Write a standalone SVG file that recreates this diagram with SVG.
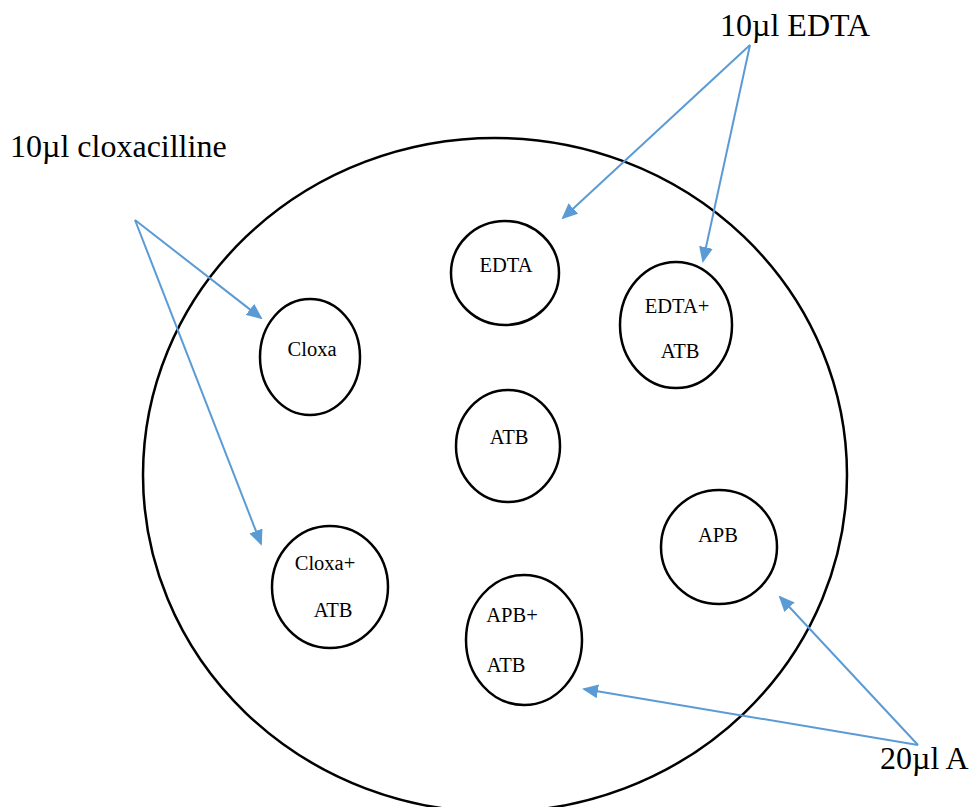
<svg xmlns="http://www.w3.org/2000/svg" width="979" height="807" viewBox="0 0 979 807">
<style>
.e{fill:none;stroke:#000;stroke-width:2.5}
.t{font-family:"Liberation Serif",serif;font-size:20.5px;fill:#000;text-anchor:middle}
.l{font-family:"Liberation Serif",serif;font-size:32px;fill:#000}
.c{stroke:#5B9BD5;stroke-width:2;fill:none;marker-end:url(#a)}
</style>
<defs>
<marker id="a" markerWidth="8" markerHeight="7" refX="7" refY="3.5" orient="auto" markerUnits="strokeWidth">
<path d="M0,0 L8,3.5 L0,7 Z" fill="#5B9BD5"/>
</marker>
</defs>
<rect width="979" height="807" fill="#fff"/>
<g id="plate"><ellipse class="e" cx="495" cy="475" rx="352" ry="337"/></g>
<g id="edta"><ellipse class="e" cx="505" cy="273" rx="54" ry="52"/><text class="t" x="506" y="272">EDTA</text></g>
<g id="edta-atb"><ellipse class="e" cx="676" cy="325" rx="56" ry="63"/><text class="t" x="677" y="313">EDTA+</text><text class="t" x="680" y="358">ATB</text></g>
<g id="cloxa"><ellipse class="e" cx="310" cy="357" rx="50" ry="58"/><text class="t" x="312" y="356">Cloxa</text></g>
<g id="atb"><ellipse class="e" cx="508" cy="446" rx="52" ry="56"/><text class="t" x="509" y="444">ATB</text></g>
<g id="apb"><ellipse class="e" cx="719" cy="547" rx="58" ry="57"/><text class="t" x="718" y="542">APB</text></g>
<g id="cloxa-atb"><ellipse class="e" cx="330" cy="587" rx="58" ry="61"/><text class="t" x="325" y="570">Cloxa+</text><text class="t" x="333" y="617">ATB</text></g>
<g id="apb-atb"><ellipse class="e" cx="524" cy="640" rx="58" ry="65"/><text class="t" x="512" y="622">APB+</text><text class="t" x="506" y="672">ATB</text></g>
<g id="lbl-edta"><text class="l" x="720" y="36">10µl EDTA</text></g>
<g id="lbl-cloxa"><text class="l" x="10" y="157">10µl cloxacilline</text></g>
<g id="lbl-a"><text class="l" x="880" y="769">20µl A</text></g>
<g id="connectors">
<line class="c" x1="750" y1="45" x2="563" y2="218"/>
<line class="c" x1="750" y1="45" x2="703" y2="261"/>
<line class="c" x1="135" y1="220" x2="261" y2="318"/>
<line class="c" x1="135" y1="220" x2="261" y2="544"/>
<line class="c" x1="918" y1="745" x2="780" y2="597"/>
<line class="c" x1="918" y1="745" x2="584" y2="689"/>
</g>
</svg>
